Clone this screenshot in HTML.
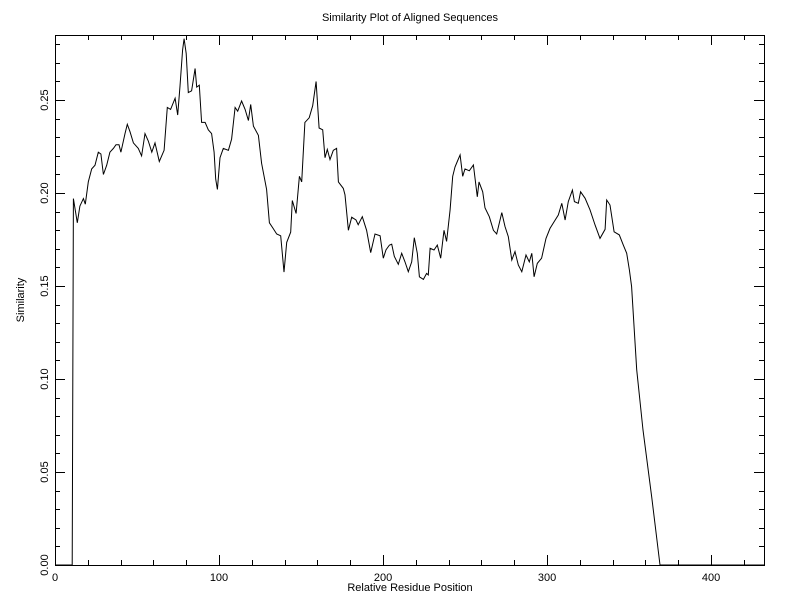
<!DOCTYPE html>
<html><head><meta charset="utf-8"><style>
body{margin:0;background:#fff;}
svg text{font-family:"Liberation Sans",sans-serif;font-size:11px;fill:#000;}
</style></head><body>
<svg id="chart" width="800" height="600" xmlns="http://www.w3.org/2000/svg">
<text x="410" y="21" text-anchor="middle">Similarity Plot of Aligned Sequences</text>
<text x="410" y="591" text-anchor="middle">Relative Residue Position</text>
<text x="0" y="0" text-anchor="middle" transform="translate(24,300) rotate(-90)">Similarity</text>
<g id="axes"></g>
<path id="line" fill="none" stroke="#000" stroke-width="1"/>
</svg>
<script>
const positions = [0,10.5,11.2,13.6,15.2,17.3,18.5,20.3,22.4,24.4,26.4,28,29.5,31.5,33.5,35.6,37.2,39,40.2,42.7,44.1,45.7,47.8,50.8,52.8,54.9,56.9,59,61,63.6,66.5,68.5,70.5,73.2,74.8,76.2,77.8,78.7,80,81.3,83.3,85.4,86.4,88,89.4,91.5,93.5,95.5,97,98,99,100.6,102.6,105.7,107.7,109.8,111.4,113.8,115.9,117.9,119.3,121,124,126,129,130.7,133,135.2,137.6,139.6,141.3,143.7,144.7,147,149,150.4,152.4,155,157.1,159.2,161,163.2,164.6,166,167.7,169.7,171.7,172.8,175.8,176.8,178.9,180.9,183.5,184.9,187.4,190,192.5,195.1,198.2,200.2,201.8,203.9,205.3,206.9,209.3,211.4,213.4,215.4,217.5,219.1,220.9,222.2,224.6,226.6,227.6,228.7,231.1,233.1,235.2,237.2,238.8,240.9,242.5,243.9,245.3,247,248.6,250,252.6,255.1,257.5,258.5,260.8,262.2,264.8,267.3,269.3,272.4,274.4,276.4,278.5,280.5,282.5,284.6,287.2,289.2,290.7,292.1,294.1,296.7,299.4,301.8,304.3,306.9,309,311,313,315.5,316.7,319.1,320.5,323.2,326.2,329.3,332.3,335.4,336.4,338.4,340.9,344.1,346.5,348.6,350.2,351.6,354.7,358.5,363.8,368.9,432.3];
const similarity = [0,0,0.197,0.184,0.193,0.197,0.194,0.206,0.213,0.215,0.222,0.221,0.210,0.215,0.222,0.224,0.226,0.226,0.222,0.232,0.237,0.233,0.227,0.224,0.220,0.232,0.228,0.222,0.227,0.217,0.223,0.246,0.245,0.251,0.242,0.2575,0.277,0.283,0.275,0.254,0.255,0.267,0.257,0.258,0.238,0.238,0.234,0.232,0.222,0.2075,0.202,0.219,0.224,0.223,0.229,0.246,0.244,0.2495,0.245,0.239,0.2477,0.236,0.231,0.216,0.202,0.184,0.181,0.178,0.177,0.1575,0.1735,0.179,0.196,0.189,0.209,0.206,0.238,0.2405,0.247,0.260,0.235,0.234,0.219,0.2235,0.218,0.223,0.224,0.206,0.2025,0.199,0.180,0.187,0.1855,0.183,0.1873,0.180,0.168,0.178,0.177,0.165,0.1695,0.172,0.1725,0.166,0.1617,0.1676,0.163,0.1577,0.163,0.176,0.1676,0.155,0.1536,0.1568,0.156,0.1703,0.1694,0.172,0.165,0.180,0.174,0.191,0.209,0.214,0.217,0.2205,0.209,0.213,0.212,0.2151,0.198,0.206,0.2007,0.192,0.1873,0.180,0.178,0.1895,0.182,0.1766,0.164,0.1685,0.1613,0.1577,0.1667,0.163,0.1676,0.155,0.1622,0.165,0.1756,0.181,0.1846,0.1882,0.1945,0.1855,0.1954,0.2016,0.1954,0.1945,0.2007,0.1972,0.191,0.1828,0.1756,0.1805,0.1963,0.1936,0.1792,0.1775,0.172,0.1676,0.1586,0.1497,0.105,0.0726,0.0366,0,0];
const xTicks = [0,100,200,300,400];
const yTicks = [0.00,0.05,0.10,0.15,0.20,0.25];
const L=55,R=764,T=35,B=565,XMAX=432.3,YMAX=0.285;
const sx=u=>L+(u/XMAX)*(R-L);
const sy=v=>B-(v/YMAX)*(B-T);
const NS="http://www.w3.org/2000/svg";
const ax=document.getElementById('axes');
function ln(x1,y1,x2,y2,name){const e=document.createElementNS(NS,'line');e.setAttribute('x1',x1);e.setAttribute('y1',y1);e.setAttribute('x2',x2);e.setAttribute('y2',y2);e.setAttribute('stroke','#000');e.setAttribute('stroke-width','1');


ax.appendChild(e);return e;}
const fr=document.createElementNS(NS,'rect');
fr.setAttribute('x',L+0.5);fr.setAttribute('y',T+0.5);fr.setAttribute('width',R-L);fr.setAttribute('height',B-T);fr.setAttribute('fill','none');fr.setAttribute('stroke','#000');


ax.appendChild(fr);
for(let u=0;u<=XMAX;u+=20){const x=Math.round(sx(u))+0.5;const major=(u%100===0);const len=major?10:5;
ln(x,B,x,B-len,'x-tick');ln(x,T,x,T+len,'x-tick-top');}
for(let k=0;k<=28;k++){const v=k*0.01;const y=Math.round(sy(v))+0.5;const major=(k%5===0);const len=major?10:5;
ln(L,y,L+len,y,'y-tick');ln(R,y,R-len,y,'y-tick-right');}
xTicks.forEach(t=>{const e=document.createElementNS(NS,'text');e.setAttribute('x',sx(t));e.setAttribute('y',581);e.setAttribute('text-anchor','middle');e.textContent=String(t);


ax.appendChild(e);});
yTicks.forEach(t=>{const e=document.createElementNS(NS,'text');e.setAttribute('text-anchor','middle');e.setAttribute('transform','translate(48,'+sy(t)+') rotate(-90)');e.textContent=t.toFixed(2);


ax.appendChild(e);});
let d='';positions.forEach((u,i)=>{d+=(i?'L':'M')+sx(u).toFixed(1)+','+sy(similarity[i]).toFixed(1);});
document.getElementById('line').setAttribute('d',d);
</script>
</body></html>
